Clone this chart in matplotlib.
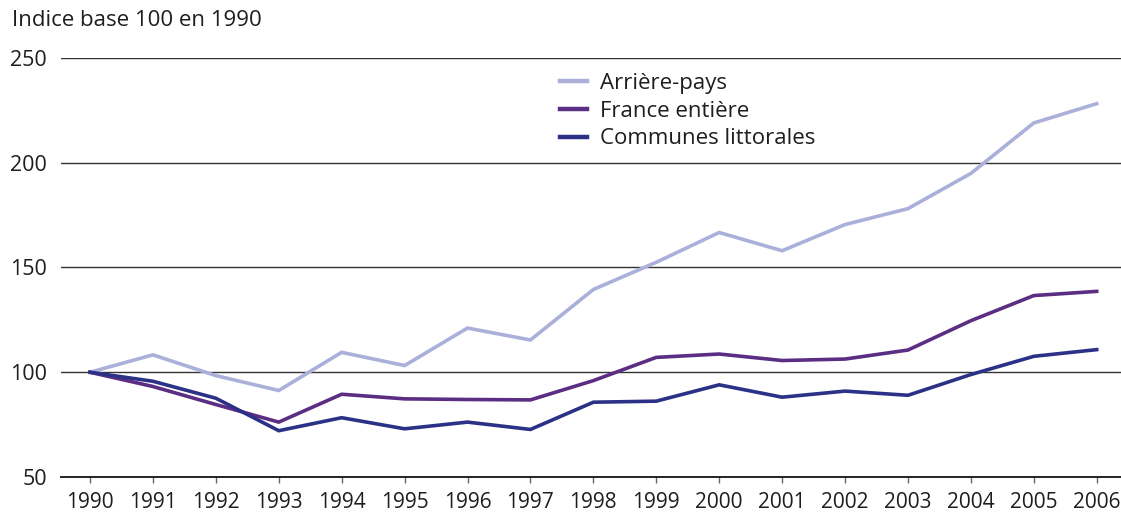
import matplotlib
matplotlib.use("Agg")
import matplotlib.pyplot as plt

years = list(range(1990, 2007))
arriere_pays = [100, 108.3, 98.4, 91.3, 109.5, 103.2, 121.1, 115.4, 139.5,
                152.5, 166.7, 158.0, 170.5, 178.1, 194.9, 219.0, 228.2]
france_entiere = [100, 93.2, 84.6, 76.2, 89.5, 87.3, 87.0, 86.8, 96.0,
                  107.1, 108.7, 105.6, 106.3, 110.6, 124.6, 136.6, 138.6]
communes_littorales = [100, 95.7, 87.6, 72.1, 78.3, 73.0, 76.2, 72.7, 85.7,
                       86.2, 94.0, 88.1, 91.0, 89.0, 98.9, 107.6, 110.8]
series_labels = ["Arrière-pays", "France entière", "Communes littorales"]
y_ticks = [50, 100, 150, 200, 250]
title = "Indice base 100 en 1990"

plt.rcParams['font.family'] = ['Open Sans', 'DejaVu Sans']
text_color = "#1e1e1e"

W, H = 1121, 513
ax_left, ax_right, ax_top, ax_bottom = 61, 1121, 58, 477
fig = plt.figure(figsize=(W/100, H/100), dpi=100)
ax = fig.add_axes([ax_left/W, (H-ax_bottom)/H, (ax_right-ax_left)/W, (ax_bottom-ax_top)/H])

colors = ["#aab0d9", "#5c2e83", "#2b3186"]
for vals, lab, c in zip([arriere_pays, france_entiere, communes_littorales], series_labels, colors):
    ax.plot(years, vals, color=c, lw=2.6, label=lab, solid_joinstyle='miter', zorder=3)

step = (1096.7 - 90) / 16
ax.set_xlim(1990 - (90 - ax_left)/step, 2006 + (ax_right - 1096.7)/step)
ax.set_ylim(50, 250)
ax.set_yticks(y_ticks)
ax.set_yticklabels([str(v) for v in y_ticks])
ax.set_xticks(years)
ax.set_xticklabels([str(y) for y in years])

for v in y_ticks[1:]:
    ax.axhline(v, color="#333333", lw=1.0, zorder=1)

for s in ["top", "right", "left"]:
    ax.spines[s].set_visible(False)
ax.spines["bottom"].set_color("#222222")
ax.spines["bottom"].set_linewidth(1.4)

ax.tick_params(axis='y', length=0, pad=10, labelsize=15.5, labelcolor=text_color)
ax.tick_params(axis='x', length=4, width=1, color="#666666", pad=7, labelsize=15, labelcolor=text_color)
ax.set_yticks([50], minor=True)
ax.tick_params(axis='y', which='minor', length=3, width=1.4, color="#222222")

leg = ax.legend(loc='upper left', bbox_to_anchor=((560 - ax_left)/(ax_right - ax_left), 1 - 15/419),
                frameon=False, fontsize=16, handlelength=1.2, handletextpad=0.62,
                labelspacing=0.3, borderaxespad=0, borderpad=0, labelcolor=text_color)
for h in leg.get_lines():
    h.set_linewidth(3.2)

fig.text(12/W, 1 - 20/H, title, fontsize=16, color=text_color, va='center', ha='left')

fig.savefig("out.png", dpi=100)
